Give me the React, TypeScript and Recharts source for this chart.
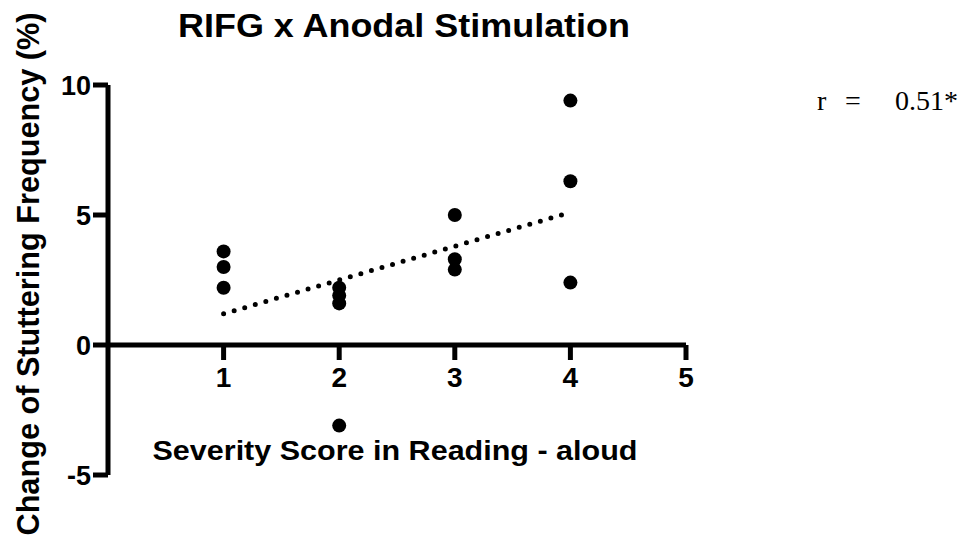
import React from "react";
import {
  ScatterChart,
  Scatter,
  XAxis,
  YAxis,
  ReferenceLine,
  ReferenceDot,
} from "recharts";

// Data
const severityScores = [1, 1, 1, 2, 2, 2, 2, 3, 3, 3, 4, 4, 4];
const stutterChange = [3.6, 3.0, 2.2, 2.2, 1.9, 1.6, -3.1, 5.0, 3.3, 2.9, 9.4, 6.3, 2.4];
const trendX = [1, 4];
const trendY = [1.2, 5.1];
const xTicks = [1, 2, 3, 4, 5];
const yTicks = [-5, 0, 5, 10];

const titleText = "RIFG x Anodal Stimulation";
const xLabelText = "Severity Score in Reading - aloud";
const yLabelText = "Change of Stuttering Frequency (%)";

const points = severityScores.map((x, i) => ({ x, y: stutterChange[i] }));
const trend = trendX.map((x, i) => ({ x, y: trendY[i] }));

const SANS = "'Liberation Sans', Arial, Helvetica, sans-serif";
const SERIF = "'Liberation Serif', 'DejaVu Serif', serif";
const AXIS_W = 5;

const Dot = (p: any) => <circle cx={p.cx} cy={p.cy} r={7} fill="#000" />;
const NoDot = () => <g />;

export default function App() {
  return (
    <div
      style={{
        position: "absolute",
        left: 0,
        top: 0,
        width: 968,
        height: 551,
        background: "#fff",
      }}
    >
      <ScatterChart
        width={968}
        height={551}
        margin={{ top: 85, right: 282, bottom: 76, left: 0 }}
      >
        <XAxis type="number" dataKey="x" domain={[0, 5]} hide />
        <YAxis
          type="number"
          dataKey="y"
          domain={[-5, 10]}
          ticks={yTicks}
          interval={0}
          allowDataOverflow
          width={108}
          axisLine={{ stroke: "#000", strokeWidth: AXIS_W }}
          tickLine={{ stroke: "#000", strokeWidth: AXIS_W }}
          tickSize={15}
          tickMargin={2}
          tick={{ fill: "#000", fontSize: 27, fontWeight: 700, fontFamily: SANS }}
        />
        <ReferenceLine y={0} stroke="#000" strokeWidth={AXIS_W} />
        {xTicks.map((t) => (
          <ReferenceDot
            key={t}
            x={t}
            y={0}
            r={0}
            shape={(p: any) => (
              <g>
                <line
                  x1={p.cx}
                  y1={p.cy}
                  x2={p.cx}
                  y2={p.cy + 15}
                  stroke="#000"
                  strokeWidth={AXIS_W}
                />
                <text
                  x={p.cx}
                  y={p.cy + 42}
                  textAnchor="middle"
                  fill="#000"
                  fontSize={28}
                  fontWeight={700}
                  fontFamily={SANS}
                >
                  {t}
                </text>
              </g>
            )}
          />
        ))}
        <Scatter
          data={trend}
          isAnimationActive={false}
          fill="#000"
          shape={NoDot}
          line={{
            stroke: "#000",
            strokeWidth: 5,
            strokeDasharray: "0 11",
            strokeLinecap: "round",
          }}
        />
        <Scatter data={points} isAnimationActive={false} fill="#000" shape={Dot} />
        <text
          x={404}
          y={37}
          textAnchor="middle"
          fill="#000"
          fontSize={34}
          fontWeight={700}
          fontFamily={SANS}
          textLength={452}
          lengthAdjust="spacingAndGlyphs"
        >
          {titleText}
        </text>
        <text
          x={395}
          y={460}
          textAnchor="middle"
          fill="#000"
          fontSize={28}
          fontWeight={700}
          fontFamily={SANS}
          textLength={485}
          lengthAdjust="spacingAndGlyphs"
        >
          {xLabelText}
        </text>
        <text
          x={39}
          y={274}
          transform="rotate(-90, 39, 274)"
          textAnchor="middle"
          fill="#000"
          fontSize={31}
          fontWeight={700}
          fontFamily={SANS}
          textLength={523}
          lengthAdjust="spacingAndGlyphs"
        >
          {yLabelText}
        </text>
        <text fill="#000" fontSize={28} fontFamily={SERIF} y={110}>
          <tspan x={817}>r</tspan>
          <tspan x={853} textAnchor="middle">=</tspan>
          <tspan x={895}>0.51*</tspan>
        </text>
      </ScatterChart>
    </div>
  );
}
